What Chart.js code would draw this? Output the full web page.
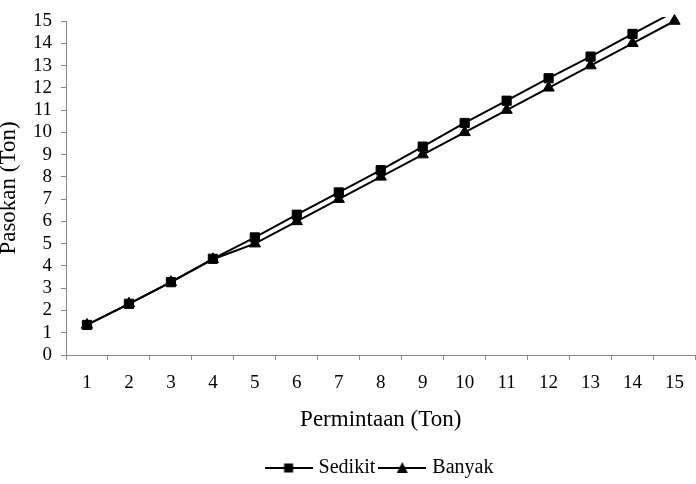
<!DOCTYPE html>
<html>
<head>
<meta charset="utf-8">
<script src="https://cdn.jsdelivr.net/npm/chart.js@4"></script>
<style>
  html, body { margin: 0; padding: 0; background: #fff; }
  #wrap { width: 696px; height: 484px; }
</style>
</head>
<body>
<div id="wrap"><canvas id="myChart" width="696" height="484"></canvas></div>
<script>
var categories = ['1', '2', '3', '4', '5', '6', '7', '8', '9', '10', '11', '12', '13', '14', '15'];
var sedikit = [1.35, 2.3, 3.27, 4.32, 5.28, 6.3, 7.3, 8.3, 9.36, 10.42, 11.42, 12.43, 13.4, 14.42, 15.42];
var banyak = [1.35, 2.3, 3.27, 4.3, 5.0, 6.0, 7.0, 8.0, 9.0, 10.0, 11.0, 12.0, 13.0, 14.0, 15.0];
var yTicks = [0, 1, 2, 3, 4, 5, 6, 7, 8, 9, 10, 11, 12, 13, 14, 15];

var serif = '"Liberation Serif", "Times New Roman", serif';
var axisGray = '#868686';

// legend icon: short line with the marker in the middle
function legendIcon(style) {
    var c = document.createElement('canvas');
    c.width = 48;
    c.height = 14;
    var g = c.getContext('2d');
    g.strokeStyle = '#000';
    g.lineWidth = 2;
    g.beginPath();
    g.moveTo(0, 7);
    g.lineTo(48, 7);
    g.stroke();
    g.fillStyle = '#000';
    if (style === 'rect') {
        g.fillRect(19.5, 2.5, 9, 9);
    } else {
        g.beginPath();
        g.moveTo(24, 1);
        g.lineTo(29.5, 12);
        g.lineTo(18.5, 12);
        g.closePath();
        g.fill();
    }
    return c;
}

// the legend sits a bit right of the canvas centre in the original
var legendShift = {
    id: 'legendShift',
    afterLayout: function (chart) {
        if (chart.legend) {
            chart.legend.left += 32;
            chart.legend.right += 32;
        }
    }
};

document.addEventListener('DOMContentLoaded', function () {
    var ctx = document.getElementById('myChart').getContext('2d');

    var data = {
        labels: categories,
        datasets: [{
            label: 'Sedikit',
            data: sedikit,
            borderColor: '#000',
            backgroundColor: '#000',
            borderWidth: 2,
            pointStyle: 'rect',
            pointRadius: function (c) { return c.parsed && c.parsed.y > 15 ? 0 : 6.5; },
            pointBorderWidth: 1,
            tension: 0,
            clip: { left: 10, right: 10, top: 4, bottom: 10 }
        }, {
            label: 'Banyak',
            data: banyak,
            borderColor: '#000',
            backgroundColor: '#000',
            borderWidth: 2,
            pointStyle: 'triangle',
            pointRadius: 6.5,
            pointBorderWidth: 1,
            tension: 0,
            clip: false
        }]
    };

    var icons = [legendIcon('rect'), legendIcon('triangle')];

    new Chart(ctx, {
        type: 'line',
        data: data,
        plugins: [legendShift],
        options: {
            responsive: false,
            animation: false,
            layout: { autoPadding: false, padding: { top: 21, right: -2, left: 0, bottom: -4 } },
            plugins: {
                tooltip: { enabled: false },
                legend: {
                    position: 'bottom',
                    labels: {
                        usePointStyle: true,
                        pointStyleWidth: 40,
                        padding: 7,
                        color: '#000',
                        font: { family: serif, size: 20 },
                        generateLabels: function (chart) {
                            return chart.data.datasets.map(function (ds, i) {
                                return {
                                    text: ds.label,
                                    pointStyle: icons[i],
                                    fillStyle: '#000',
                                    strokeStyle: '#000',
                                    lineWidth: 0,
                                    fontColor: '#000',
                                    datasetIndex: i,
                                    hidden: false
                                };
                            });
                        }
                    }
                }
            },
            scales: {
                x: {
                    offset: true,
                    grid: {
                        offset: true,
                        drawOnChartArea: false,
                        drawTicks: true,
                        tickLength: 5,
                        color: axisGray
                    },
                    border: { display: true, color: axisGray, width: 1 },
                    ticks: {
                        color: '#000',
                        padding: 12,
                        maxRotation: 0,
                        autoSkip: false,
                        font: { family: serif, size: 19 }
                    },
                    title: {
                        display: true,
                        text: 'Permintaan (Ton)',
                        color: '#000',
                        font: { family: serif, size: 23 },
                        padding: { top: 0, bottom: 17 }
                    },
                    afterFit: function (scale) { scale.height = 96; }
                },
                y: {
                    min: 0,
                    max: 15,
                    afterBuildTicks: function (scale) {
                        scale.ticks = yTicks.map(function (v) { return { value: v }; });
                    },
                    grid: {
                        drawOnChartArea: false,
                        drawTicks: true,
                        tickLength: 5,
                        color: axisGray
                    },
                    border: { display: true, color: axisGray, width: 1 },
                    ticks: {
                        color: '#000',
                        padding: 9,
                        autoSkip: false,
                        font: { family: serif, size: 19 }
                    },
                    title: {
                        display: true,
                        text: 'Pasokan (Ton)',
                        color: '#000',
                        font: { family: serif, size: 23 },
                        padding: { top: -5, bottom: 0 }
                    },
                    afterFit: function (scale) { scale.width = 66; }
                }
            }
        }
    });
});
</script>
</body>
</html>
